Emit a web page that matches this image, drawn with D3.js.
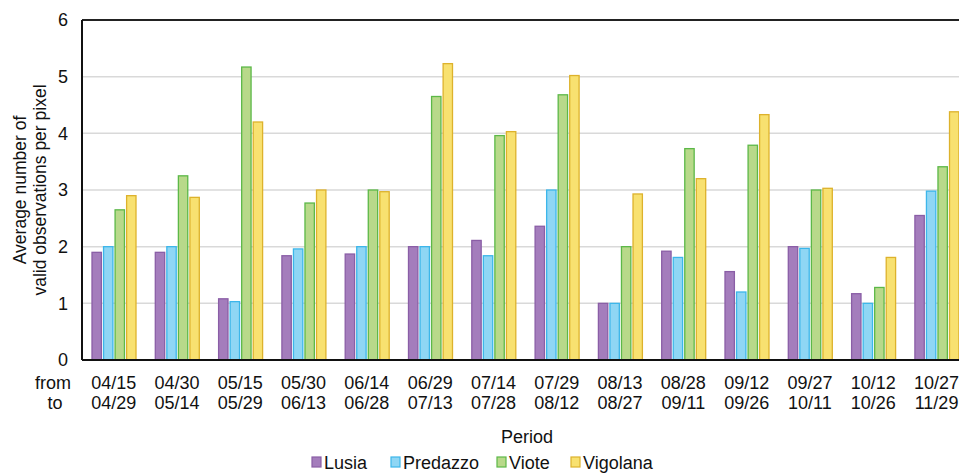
<!DOCTYPE html>
<html><head><meta charset="utf-8">
<script src="https://cdn.jsdelivr.net/npm/d3@7/dist/d3.min.js"></script>
<style>body{margin:0;background:#fff}svg{display:block;font-family:"Liberation Sans",Arial,sans-serif}</style>
</head><body><svg id="c" width="959" height="473"></svg>
<script>
const fromLabels = ["04/15","04/30","05/15","05/30","06/14","06/29","07/14","07/29","08/13","08/28","09/12","09/27","10/12","10/27"];
const toLabels   = ["04/29","05/14","05/29","06/13","06/28","07/13","07/28","08/12","08/27","09/11","09/26","10/11","10/26","11/29"];
const seriesNames = ["Lusia","Predazzo","Viote","Vigolana"];
const lusia    = [1.90,1.90,1.08,1.84,1.87,2.00,2.11,2.36,1.00,1.92,1.56,2.00,1.17,2.55];
const predazzo = [2.00,2.00,1.03,1.96,2.00,2.00,1.84,3.00,1.00,1.81,1.20,1.97,1.00,2.98];
const viote    = [2.65,3.25,5.17,2.77,3.00,4.65,3.96,4.68,2.00,3.73,3.79,3.00,1.28,3.41];
const vigolana = [2.90,2.87,4.20,3.00,2.97,5.23,4.03,5.02,2.93,3.20,4.33,3.03,1.81,4.38];
const yTicks = [0,1,2,3,4,5,6];
const fills   = ["#a47dbc","#8fd6f4","#b8d98a","#f8e170"];
const strokes = ["#8a5ea6","#3cb6ea","#5cb848","#ddb22c"];

const series = [lusia, predazzo, viote, vigolana];
const svg = d3.select("#c");
const L = 82, T = 20, B = 360, step = 63.3;
const R = L + step * fromLabels.length;

const x = d3.scaleBand().domain(fromLabels).range([L, R]).paddingInner(0).paddingOuter(0);
const xs = d3.scaleBand().domain(seriesNames).range([9.5, 54.5]).paddingInner(0.1);
const y = d3.scaleLinear().domain([0, 6]).range([B, T]);

// gridlines
svg.append("g").selectAll("line").data(yTicks.filter(d => d > 0 && d < 6)).join("line")
  .attr("x1", L).attr("x2", 959).attr("y1", d => y(d)).attr("y2", d => y(d))
  .attr("stroke", "#d9d9d9").attr("stroke-width", 1.5);

// bars
const g = svg.append("g");
series.forEach((vals, si) => {
  g.append("g").selectAll("rect").data(vals).join("rect")
    .attr("x", (d, i) => x(fromLabels[i]) + xs(seriesNames[si]) + 0.5)
    .attr("y", d => y(d))
    .attr("width", xs.bandwidth() - 1)
    .attr("height", d => y(0) - y(d))
    .attr("fill", fills[si]).attr("stroke", strokes[si]).attr("stroke-width", 1.3);
});

// frame
svg.append("line").attr("x1", L).attr("x2", 959).attr("y1", T).attr("y2", T).attr("stroke", "#222").attr("stroke-width", 2);
svg.append("line").attr("x1", L).attr("x2", 959).attr("y1", B).attr("y2", B).attr("stroke", "#111").attr("stroke-width", 2);
svg.append("line").attr("x1", L).attr("x2", L).attr("y1", T).attr("y2", B).attr("stroke", "#111").attr("stroke-width", 2);

// y axis labels
const yAxis = d3.axisLeft(y).tickValues(yTicks).tickFormat(d3.format("d")).tickSize(0).tickPadding(14);
const ya = svg.append("g").attr("transform", `translate(${L},0)`).call(yAxis);
ya.select(".domain").remove();
ya.selectAll("text").attr("font-size", 18).attr("fill", "#111").attr("font-family", '"Liberation Sans",Arial,sans-serif');

// x labels
const xg = svg.append("g");
xg.selectAll("text.f").data(fromLabels).join("text").attr("class", "f")
  .attr("x", d => x(d) + x.bandwidth() / 2).attr("y", 389)
  .attr("text-anchor", "middle").attr("font-size", 18).attr("fill", "#111").text(d => d);
xg.selectAll("text.t").data(toLabels).join("text").attr("class", "t")
  .attr("x", (d, i) => x(fromLabels[i]) + x.bandwidth() / 2).attr("y", 409)
  .attr("text-anchor", "middle").attr("font-size", 18).attr("fill", "#111").text(d => d);
svg.append("text").attr("x", 53).attr("y", 389).attr("text-anchor", "middle").attr("font-size", 18).attr("fill", "#111").text("from");
svg.append("text").attr("x", 55).attr("y", 409).attr("text-anchor", "middle").attr("font-size", 18).attr("fill", "#111").text("to");

// axis titles
svg.append("text").attr("x", 527).attr("y", 443).attr("text-anchor", "middle").attr("font-size", 18).attr("fill", "#111").text("Period");
const yt = svg.append("text").attr("transform", "translate(0,190) rotate(-90)").attr("text-anchor", "middle").attr("font-size", 17.5).attr("fill", "#111");
yt.append("tspan").attr("x", 0).attr("y", 26).text("Average number of");
yt.append("tspan").attr("x", 0).attr("y", 46).text("valid observations per pixel");

// legend
const legX = [312, 391, 497, 571];
const lg = svg.append("g");
seriesNames.forEach((n, i) => {
  lg.append("rect").attr("x", legX[i]).attr("y", 457).attr("width", 9).attr("height", 10)
    .attr("fill", fills[i]).attr("stroke", strokes[i]).attr("stroke-width", 1.2);
  lg.append("text").attr("x", legX[i] + 12).attr("y", 469).attr("font-size", 18).attr("fill", "#111").text(n);
});
</script></body></html>
